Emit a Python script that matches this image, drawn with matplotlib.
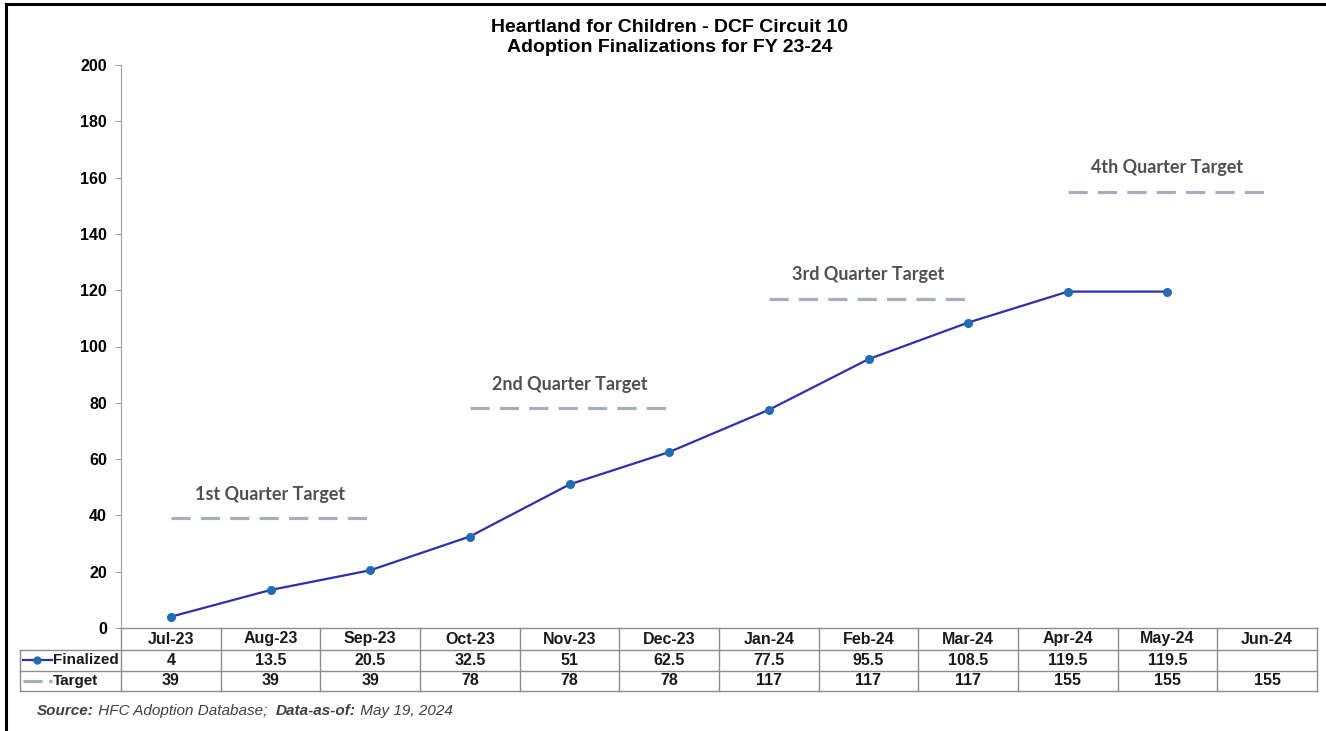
import numpy as np
import matplotlib.pyplot as plt
from matplotlib.lines import Line2D
import matplotlib.transforms as mtransforms

months = ['Jul-23', 'Aug-23', 'Sep-23', 'Oct-23', 'Nov-23', 'Dec-23',
          'Jan-24', 'Feb-24', 'Mar-24', 'Apr-24', 'May-24', 'Jun-24']
finalized = [4, 13.5, 20.5, 32.5, 51, 62.5, 77.5, 95.5, 108.5, 119.5, 119.5, None]
target = [39, 39, 39, 78, 78, 78, 117, 117, 117, 155, 155, 155]
quarter_labels = ['1st Quarter Target', '2nd Quarter Target',
                  '3rd Quarter Target', '4th Quarter Target']

line_col = '#2e2eb0'
mark_col = '#1f6db5'
tgt_col = '#a7aebb'
grid_col = '#a0a0a0'

fig = plt.figure(figsize=(13.26, 7.31), dpi=100)
ax = fig.add_axes([121/1326, 1 - 628/731, 1196/1326, 563/731])

x = np.arange(len(months))
fin = np.array([np.nan if v is None else v for v in finalized])
ax.plot(x, fin, color=line_col, lw=1.6, marker='o', ms=5.5,
        mfc=mark_col, mec=mark_col, zorder=3)

# target: one segment per quarter
for q in range(4):
    xs = x[q*3:q*3+3]
    ys = target[q*3:q*3+3]
    ax.plot(xs, ys, color=tgt_col, lw=2.3, dashes=(6, 3.2), zorder=2)
    ax.text(xs.mean(), ys[0] + 8.5, quarter_labels[q], ha='center', va='center',
            fontsize=13, fontweight='bold', color='#505050', family='Lato')

ax.set_xlim(-0.5, 11.5)
ax.set_ylim(0, 200)
ax.set_yticks(np.arange(0, 201, 20))
ax.set_xticks([])
for s in ['top', 'right', 'bottom']:
    ax.spines[s].set_visible(False)
ax.spines['left'].set_color(grid_col)
ax.tick_params(axis='y', length=4, color=grid_col, pad=6)
for lab in ax.get_yticklabels():
    lab.set_fontweight('bold')
    lab.set_fontsize(11.5)
    lab.set_family('Liberation Sans')

# data table under the chart
tr = mtransforms.blended_transform_factory(ax.transData, ax.transAxes)
px = 1 / 563
rows = [0, -22*px, -42.5*px, -63*px]
x_left = -0.5 - 101/99.67
tbl_kw = dict(transform=tr, clip_on=False, color='#8c8c8c', lw=1)
# horizontal lines
ax.plot([-0.5, 11.5], [rows[0], rows[0]], **tbl_kw)
for r in rows[1:]:
    ax.plot([x_left, 11.5], [r, r], **tbl_kw)
# vertical lines
for i in range(13):
    ax.plot([i - 0.5, i - 0.5], [rows[0], rows[3]], **tbl_kw)
ax.plot([x_left, x_left], [rows[1], rows[3]], **tbl_kw)

txt_kw = dict(transform=tr, ha='center', va='center', fontsize=11.5,
              fontweight='bold', family='Liberation Sans', color='#1a1a1a')
for i, m in enumerate(months):
    ax.text(i, (rows[0] + rows[1]) / 2, m, **txt_kw)
    if finalized[i] is not None:
        ax.text(i, (rows[1] + rows[2]) / 2, f'{finalized[i]:g}', **txt_kw)
    ax.text(i, (rows[2] + rows[3]) / 2, f'{target[i]:g}', **txt_kw)

# legend keys in row headers
y1 = (rows[1] + rows[2]) / 2
y2 = (rows[2] + rows[3]) / 2
kx = x_left + 0.03
ax.add_line(Line2D([kx, kx + 0.29], [y1, y1], transform=tr, clip_on=False,
                   color=line_col, lw=1.6))
ax.add_line(Line2D([kx + 0.145], [y1], transform=tr, clip_on=False, marker='o',
                   ms=5, mfc=mark_col, mec=mark_col))
ax.add_line(Line2D([kx, kx + 0.29], [y2, y2], transform=tr, clip_on=False,
                   color=tgt_col, lw=2.3, dashes=(6, 2)))
hdr_kw = {**txt_kw, 'ha': 'left', 'fontsize': 11}
ax.text(kx + 0.3, y1, 'Finalized', **hdr_kw)
ax.text(kx + 0.3, y2, 'Target', **hdr_kw)

# title
fig.text(0.505, 1 - 27/731, 'Heartland for Children - DCF Circuit 10', ha='center',
         va='center', fontsize=14, fontweight='bold', family='Liberation Sans')
fig.text(0.505, 1 - 48/731, 'Adoption Finalizations for FY 23-24', ha='center',
         va='center', fontsize=14, fontweight='bold', family='Liberation Sans')

# source note
src_y = 1 - 711/731
t1 = fig.text(37/1326, src_y, 'Source:', fontsize=11, fontweight='bold', style='italic',
              color='#404040', va='center', family='Liberation Sans')
fig.canvas.draw()
def after(t, s, bold=False):
    bb = t.get_window_extent()
    return fig.text(bb.x1 / fig.bbox.width, src_y, s, fontsize=11, style='italic',
                    fontweight='bold' if bold else 'normal', color='#404040',
                    va='center', family='Liberation Sans')
t2 = after(t1, ' HFC Adoption Database;  ')
fig.canvas.draw()
t3 = after(t2, 'Data-as-of:', bold=True)
fig.canvas.draw()
after(t3, ' May 19, 2024')

# outer frame (top and left)
fig.add_artist(Line2D([6/1326, 1], [1 - 4/731, 1 - 4/731], color='black', lw=2.2,
                      transform=fig.transFigure))
fig.add_artist(Line2D([6/1326, 6/1326], [0, 1 - 4/731], color='black', lw=2.2,
                      transform=fig.transFigure))

fig.savefig('out.png', dpi=100)
